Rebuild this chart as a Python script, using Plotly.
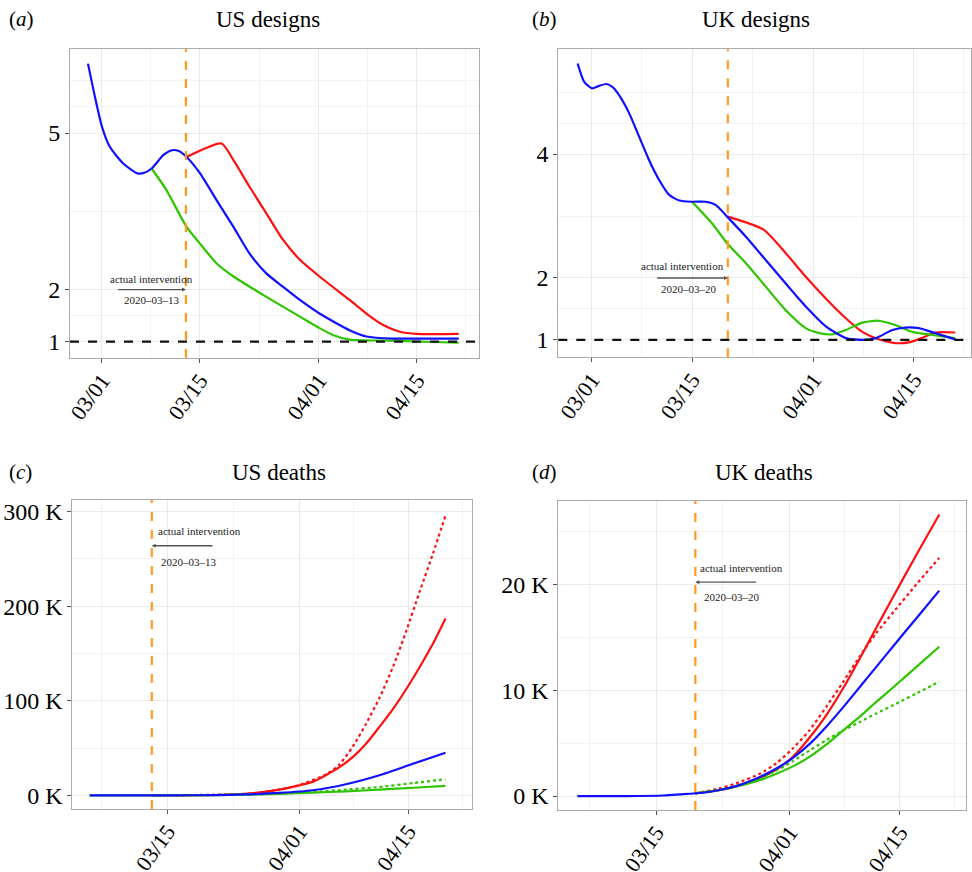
import pandas as pd
import plotly.graph_objects as go

BASE = pd.Timestamp("2020-03-01")

# ---------------- data (t = days since 2020-03-01) ----------------
# (a) US designs (reproduction number)
us_blue_t = [-2, -1, 0, 1.1, 3, 5, 5.9, 7.1, 8.8, 10, 10.9, 12.1, 14, 16.4, 18.8, 21.1, 23.5, 25.9, 28.3, 31.1, 35.4, 37.8, 41.6, 47.3, 51]
us_blue_v = [6.33, 5.69, 5.12, 4.74, 4.42, 4.23, 4.23, 4.32, 4.58, 4.67, 4.66, 4.54, 4.23, 3.71, 3.20, 2.69, 2.31, 2.05, 1.80, 1.54, 1.22, 1.10, 1.06, 1.06, 1.06]
us_red_t = [12.1, 17.1, 18.8, 21.1, 23.5, 25.9, 28.3, 31.1, 35.4, 37.8, 40.2, 42.6, 45, 51]
us_red_v = [4.54, 4.80, 4.48, 3.97, 3.46, 2.95, 2.57, 2.25, 1.80, 1.54, 1.32, 1.19, 1.15, 1.15]
us_green_t = [7.1, 9.2, 12.1, 14, 16.4, 18.8, 23.5, 28.3, 31.1, 33, 35.4, 41, 51]
us_green_v = [4.32, 3.91, 3.20, 2.88, 2.50, 2.25, 1.86, 1.48, 1.26, 1.13, 1.04, 1.02, 0.98]

# (b) UK designs
uk_blue_t = [-2, -1.1, 0, 1, 2, 2.9, 3.8, 5.2, 6.6, 8, 9.4, 10.8, 12.2, 14, 15.9, 17.3, 18.9, 21.5, 24.3, 27.1, 29.9, 32.7, 35.5, 37.8, 39.7, 42, 43.8, 45.7, 48, 50.8]
uk_blue_v = [5.46, 5.17, 5.06, 5.10, 5.13, 5.08, 4.95, 4.66, 4.28, 3.90, 3.58, 3.34, 3.25, 3.23, 3.23, 3.18, 2.99, 2.67, 2.29, 1.91, 1.54, 1.22, 1.03, 1.00, 1.03, 1.16, 1.20, 1.19, 1.11, 1.01]
uk_red_t = [19, 24, 27.1, 29.9, 32.7, 35.5, 37.8, 40.1, 42.4, 44.3, 46.1, 48, 50.8]
uk_red_v = [2.99, 2.78, 2.40, 2.02, 1.67, 1.35, 1.13, 1.01, 0.95, 0.96, 1.03, 1.12, 1.12]
uk_green_t = [14, 16.8, 18.9, 21.5, 24.3, 27.1, 29.9, 31.8, 33.6, 35.5, 37.8, 40.1, 42.4, 44.8, 47.6, 50.8]
uk_green_v = [3.23, 2.88, 2.56, 2.24, 1.86, 1.48, 1.19, 1.11, 1.09, 1.16, 1.28, 1.31, 1.24, 1.13, 1.08, 1.03]

# (c) US deaths (thousands)
usd_blue_t = [4, 15, 20, 24, 28.4, 32.7, 37, 41.3, 45.7, 49.8]
usd_blue_v = [0, 0, 0.2, 0.9, 2.5, 5.3, 11.7, 21.2, 33.6, 45]
usd_red_t = [12, 20, 24, 28.4, 31, 32.7, 34.4, 36.2, 37.9, 39.6, 41.3, 43.1, 44.8, 46.5, 48.2, 49.8]
usd_red_v = [0, 0.3, 1.5, 6, 10.5, 14.2, 21.2, 30, 40.6, 54.7, 72.4, 92, 113, 136, 160.5, 187]
usd_reddot_t = [12, 24, 28.4, 31, 34.4, 36.2, 37.9, 39.6, 41.3, 43.1, 44.8, 46.5, 48.2, 49.8]
usd_reddot_v = [0, 1.5, 6, 11, 22, 33, 52, 76, 103, 137, 175, 216, 256, 296]
usd_green_t = [4, 20, 28.4, 32.7, 37, 41.3, 45.7, 49.8]
usd_green_v = [0, 0.2, 1.6, 2.8, 4.2, 6, 8, 10]
usd_greendot_t = [12, 20, 28.4, 32.7, 37, 41.3, 45.7, 49.8]
usd_greendot_v = [0, 0.2, 1.8, 3.5, 6, 8.8, 13, 17]

# (d) UK deaths (thousands)
ukd_blue_t = [4, 10, 15, 17, 19.9, 22.05, 24.2, 27.2, 29.3, 31.4, 33.5, 35.7, 37.8, 39.9, 42, 44.2, 47.1, 50]
ukd_blue_v = [0, 0, 0.05, 0.15, 0.31, 0.57, 0.94, 1.8, 2.6, 3.6, 4.9, 6.6, 8.4, 10.3, 12.2, 14.2, 16.8, 19.4]
ukd_red_t = [19, 22.05, 24.2, 27.2, 29.3, 31.4, 33.5, 35.7, 37.8, 39.9, 42, 44.2, 47.1, 50]
ukd_red_v = [0.25, 0.55, 0.94, 1.7, 2.5, 3.7, 5.5, 7.7, 10.2, 13.0, 15.9, 18.9, 22.8, 26.6]
ukd_reddot_t = [19, 22.05, 24.2, 27.2, 29.3, 31.4, 33.5, 35.7, 37.8, 39.9, 42, 44.2, 47.1, 50]
ukd_reddot_v = [0.25, 0.72, 1.2, 2.1, 3.1, 4.5, 6.2, 8.5, 10.8, 13.2, 15.4, 17.4, 20.0, 22.5]
ukd_green_t = [19, 22.05, 24.2, 27.2, 29.3, 31.4, 33.5, 35.7, 37.8, 39.9, 42, 44.2, 47.1, 50]
ukd_green_v = [0.25, 0.55, 0.9, 1.5, 2.1, 2.8, 3.7, 4.9, 6.2, 7.5, 8.9, 10.3, 12.2, 14.1]
ukd_greendot_t = [19, 22.05, 24.2, 27.2, 29.3, 31.4, 33.5, 35.7, 37.8, 39.9, 42, 44.2, 47.1, 50]
ukd_greendot_v = [0.25, 0.57, 0.95, 1.7, 2.4, 3.3, 4.3, 5.3, 6.2, 7.0, 7.8, 8.6, 9.7, 10.8]

us_intervention = "2020-03-13"
uk_intervention = "2020-03-20"

design_ticks = ["2020-03-01", "2020-03-15", "2020-04-01", "2020-04-15"]
design_ticktext = ["03/01", "03/15", "04/01", "04/15"]
death_ticks = ["2020-03-15", "2020-04-01", "2020-04-15"]
death_ticktext = ["03/15", "04/01", "04/15"]
us_design_yticks = [1, 2, 5]
uk_design_yticks = [1, 2, 4]
us_death_yticks = [0, 100, 200, 300]
us_death_yticktext = ["0 K", "100 K", "200 K", "300 K"]
uk_death_yticks = [0, 10, 20]
uk_death_yticktext = ["0 K", "10 K", "20 K"]

# ---------------- helpers ----------------
def dates(ts):
    return [BASE + pd.Timedelta(days=float(t)) for t in ts]

def d1(t):
    return BASE + pd.Timedelta(days=float(t))

RED = "#FF1010"
BLUE = "#1010FF"
GREEN = "#2EC400"
ORANGE = "#FF9A1E"
FONT = "Liberation Serif"

fig = go.Figure()

def line(xs, ys, color, ax, dash="solid"):
    fig.add_trace(go.Scatter(
        x=dates(xs), y=ys, mode="lines",
        line=dict(color=color, width=2.2, dash=dash, shape="spline", smoothing=0.6),
        xaxis="x" + ax, yaxis="y" + ax, showlegend=False, hoverinfo="skip"))

# (a)
line(us_red_t, us_red_v, RED, "")
line(us_green_t, us_green_v, GREEN, "")
line(us_blue_t, us_blue_v, BLUE, "")
# (b)
line(uk_red_t, uk_red_v, RED, "2")
line(uk_green_t, uk_green_v, GREEN, "2")
line(uk_blue_t, uk_blue_v, BLUE, "2")
# (c)
line(usd_reddot_t, usd_reddot_v, RED, "3", "dot")
line(usd_red_t, usd_red_v, RED, "3")
line(usd_greendot_t, usd_greendot_v, GREEN, "3", "dot")
line(usd_green_t, usd_green_v, GREEN, "3")
line(usd_blue_t, usd_blue_v, BLUE, "3")
# (d)
line(ukd_reddot_t, ukd_reddot_v, RED, "4", "dot")
line(ukd_red_t, ukd_red_v, RED, "4")
line(ukd_greendot_t, ukd_greendot_v, GREEN, "4", "dot")
line(ukd_green_t, ukd_green_v, GREEN, "4")
line(ukd_blue_t, ukd_blue_v, BLUE, "4")

H = 872.0
W = 972.0

def xaxis(dom, rng, tickvals, ticktext, minor_t, anchor):
    return dict(
        domain=dom, range=[d1(rng[0]), d1(rng[1])], type="date",
        tickmode="array", tickvals=tickvals, ticktext=ticktext,
        tickangle=-54, tickfont=dict(family=FONT, size=22, color="black"),
        ticklabelstandoff=-4,
        showline=True, mirror=True, linecolor="#AAAAAA", linewidth=1,
        showgrid=True, gridcolor="#EAEAEA", gridwidth=1, zeroline=False,
        ticks="outside", ticklen=4, tickcolor="#555555",
        minor=dict(tickmode="array", tickvals=[d1(t) for t in minor_t],
                   showgrid=True, gridcolor="#F3F3F3", gridwidth=1, ticks=""),
        anchor=anchor, fixedrange=True, automargin=False)

def yaxis(dom, rng, tickvals, ticktext, minor_v, anchor):
    return dict(
        domain=dom, range=rng,
        tickmode="array", tickvals=tickvals, ticktext=ticktext,
        tickfont=dict(family=FONT, size=24, color="black"),
        showline=True, mirror=True, linecolor="#AAAAAA", linewidth=1,
        showgrid=True, gridcolor="#EAEAEA", gridwidth=1, zeroline=False,
        ticks="outside", ticklen=4, tickcolor="#555555",
        minor=dict(tickmode="array", tickvals=minor_v,
                   showgrid=True, gridcolor="#F3F3F3", gridwidth=1, ticks=""),
        anchor=anchor, fixedrange=True, automargin=False)

def xd(a, b):
    return [a / W, b / W]

def yd(top, bot):
    return [1 - bot / H, 1 - top / H]

layout = dict(
    width=972, height=872, margin=dict(l=0, r=0, t=0, b=0, autoexpand=False),
    paper_bgcolor="white", plot_bgcolor="white",
    font=dict(family=FONT, color="black"),
    xaxis=xaxis(xd(70, 479), [-4.57, 53.9], design_ticks, design_ticktext, [-7, 7, 22.5, 38, 52], "y"),
    yaxis=yaxis(yd(49, 358), [0.688, 6.61], us_design_yticks, [str(v) for v in us_design_yticks], [1.5, 3.5, 5.5, 6], "x"),
    xaxis2=xaxis(xd(558.3, 971), [-4.7, 53.0], design_ticks, design_ticktext, [-7, 7, 22.5, 38, 52], "y2"),
    yaxis2=yaxis(yd(49.3, 357.3), [0.72, 5.69], uk_design_yticks, [str(v) for v in uk_design_yticks], [1.5, 3, 4.5, 5], "x2"),
    xaxis3=xaxis(xd(72.3, 472.3), [1.77, 53.25], death_ticks, death_ticktext, [5.5, 22.5, 38, 52], "y3"),
    yaxis3=yaxis(yd(500, 809), [-14.5, 312.4], us_death_yticks, us_death_yticktext, [50, 150, 250], "x3"),
    xaxis4=xaxis(xd(558.3, 966), [1.58, 53.4], death_ticks, death_ticktext, [5.5, 22.5, 38, 52], "y4"),
    yaxis4=yaxis(yd(501, 810), [-1.32, 27.87], uk_death_yticks, uk_death_yticktext, [5, 15, 25], "x4"),
)
fig.update_layout(**layout)

shapes = []
for ax, date in [("", us_intervention), ("2", uk_intervention), ("3", us_intervention), ("4", uk_intervention)]:
    shapes.append(dict(type="line", xref="x" + ax, yref="y" + ax + " domain", x0=date, x1=date, y0=0, y1=1,
                       line=dict(color=ORANGE, width=2.2, dash="dash"), layer="above"))
for ax in ["", "2"]:
    shapes.append(dict(type="line", xref="x" + ax + " domain", yref="y" + ax, x0=0, x1=1, y0=1, y1=1,
                       line=dict(color="#111111", width=2.2, dash="dash"), layer="above"))
fig.update_layout(shapes=shapes)

ann = []
def title(x, y, txt, size=23, anchor="center"):
    ann.append(dict(xref="paper", yref="paper", x=x / W, y=1 - y / H, text=txt, showarrow=False,
                    font=dict(family=FONT, size=size, color="black"), xanchor=anchor, yanchor="middle"))

title(7, 19, "(<i>a</i>)", 21, "left")
title(268, 19, "US designs")
title(530, 19, "(<i>b</i>)", 21, "left")
title(756, 19, "UK designs")
title(7, 472, "(<i>c</i>)", 21, "left")
title(279, 472, "US deaths")
title(530, 472, "(<i>d</i>)", 21, "left")
title(764, 472, "UK deaths")

def note(ax, x, y, txt, anchor="center"):
    ann.append(dict(xref="x" + ax, yref="y" + ax, x=x, y=y, text=txt, showarrow=False,
                    font=dict(family=FONT, size=11, color="#222222"), xanchor=anchor, yanchor="middle"))

def arrow(ax, x_head, x_tail, y):
    ann.append(dict(xref="x" + ax, yref="y" + ax, x=x_head, y=y, axref="x" + ax, ayref="y" + ax,
                    ax=x_tail, ay=y, text="", showarrow=True, arrowhead=2, arrowsize=0.6,
                    arrowwidth=1.3, arrowcolor="#555555"))

# (a)
note("", d1(7.1), 2.2, "actual intervention")
arrow("", us_intervention, d1(2.1), 2.0)
note("", d1(7.1), 1.8, "2020\u201303\u201313")
# (b)
note("2", d1(12.7), 2.2, "actual intervention")
arrow("2", uk_intervention, d1(8.9), 2.0)
note("2", d1(13.6), 1.82, "2020\u201303\u201320")
# (c)
note("3", d1(12.5), 280, "actual intervention", "left")
arrow("3", us_intervention, d1(20.0), 264)
note("3", d1(12.9), 247, "2020\u201303\u201313", "left")
# (d)
note("4", d1(19.3), 21.5, "actual intervention", "left")
arrow("4", uk_intervention, d1(26.9), 20.2)
note("4", d1(19.9), 18.8, "2020\u201303\u201320", "left")

fig.update_layout(annotations=ann)

fig.write_html("out.html", config={"displayModeBar": False},
               post_script="document.body.style.margin='0px';document.body.style.overflow='hidden';")
